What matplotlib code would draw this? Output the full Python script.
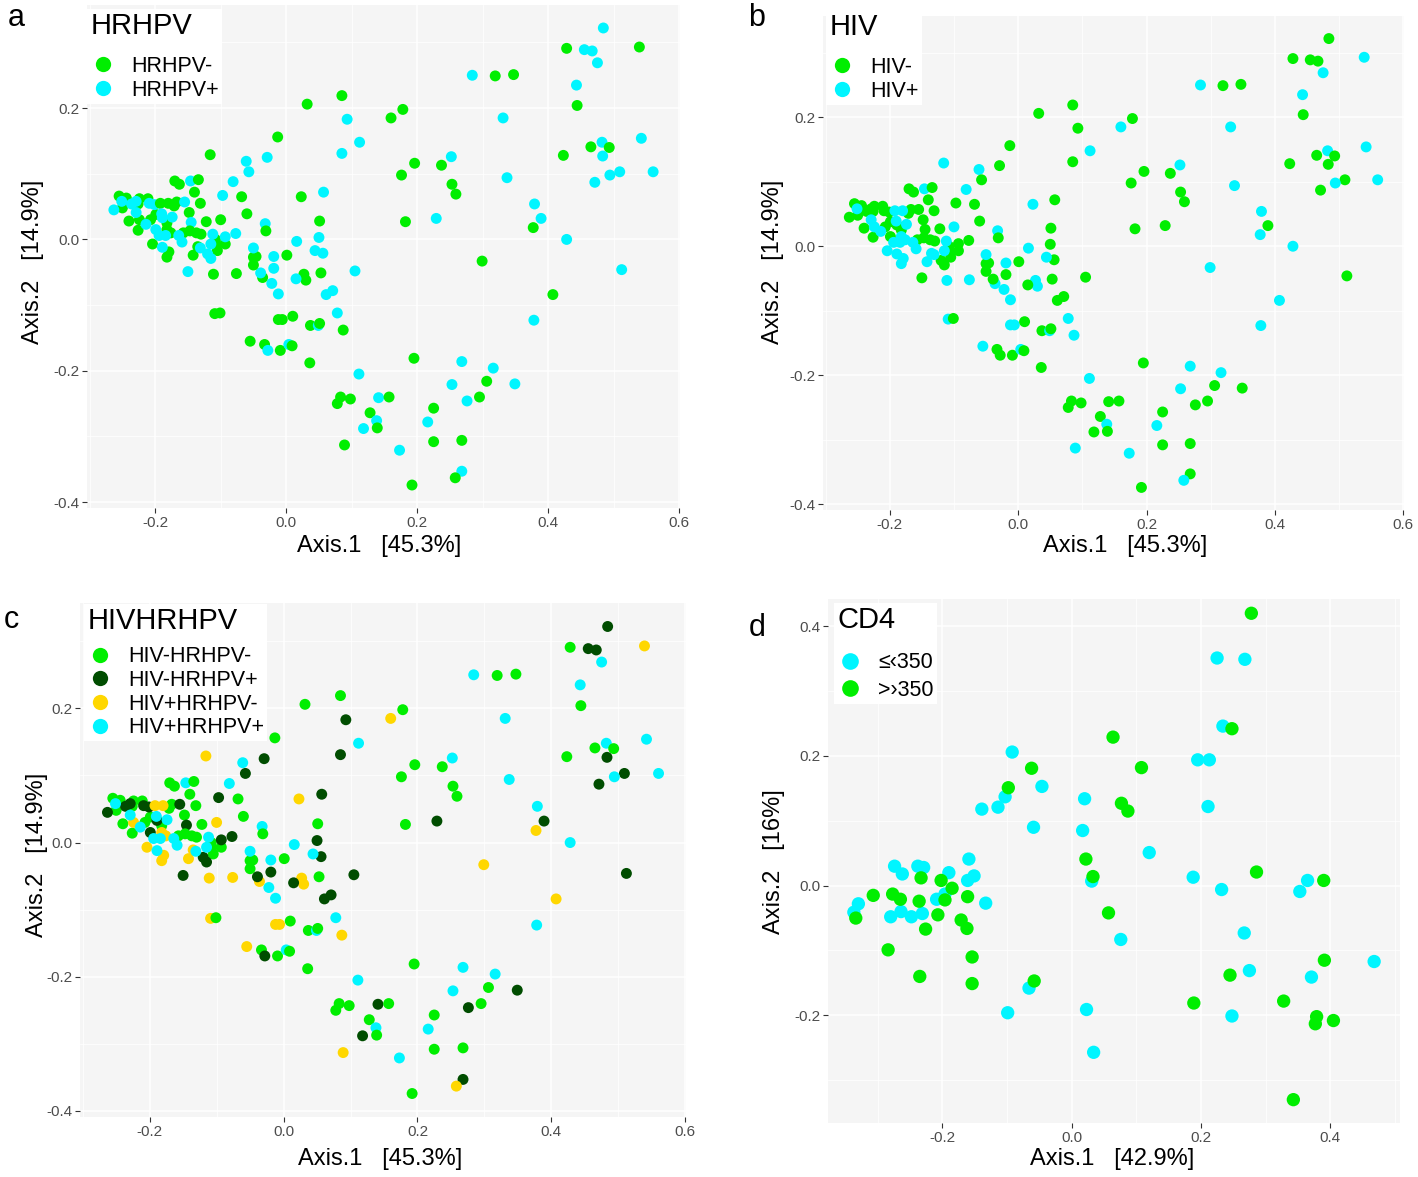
import matplotlib
matplotlib.use("Agg")
import matplotlib.pyplot as plt
from matplotlib.lines import Line2D
from matplotlib.ticker import MultipleLocator, FormatStrFormatter
import numpy as np

plt.rcParams['font.family'] = ['Liberation Sans', 'DejaVu Sans']
plt.rcParams['axes.unicode_minus'] = False

# ---- panels a-c: same ordination, coloured by group ----
# group: 0 HIV-HRHPV-, 1 HIV-HRHPV+, 2 HIV+HRHPV-, 3 HIV+HRHPV+
pts = [
    # upper right
    (0.484, 0.322, 1), (0.428, 0.291, 0), (0.455, 0.289, 1), (0.467, 0.287, 1),
    (0.539, 0.293, 2), (0.475, 0.269, 3), (0.284, 0.250, 3), (0.319, 0.249, 0),
    (0.347, 0.251, 0), (0.443, 0.235, 3), (0.444, 0.204, 0), (0.178, 0.198, 0),
    (0.160, 0.185, 2), (0.331, 0.185, 3), (0.542, 0.154, 3), (0.482, 0.148, 3),
    (0.465, 0.141, 0), (0.493, 0.140, 0), (0.423, 0.128, 0), (0.483, 0.127, 1),
    (0.252, 0.126, 3), (0.196, 0.116, 0), (0.237, 0.113, 0), (0.176, 0.098, 0),
    (0.509, 0.103, 1), (0.494, 0.098, 3), (0.560, 0.103, 3), (0.471, 0.087, 1),
    (0.337, 0.094, 3), (0.253, 0.084, 0), (0.259, 0.069, 0), (0.379, 0.054, 3),
    (0.389, 0.032, 1), (0.377, 0.018, 2), (0.182, 0.027, 0), (0.229, 0.032, 1),
    (0.428, 0.000, 3), (0.299, -0.033, 2), (0.407, -0.084, 2), (0.378, -0.123, 3),
    (0.512, -0.046, 1),
    # upper middle
    (0.085, 0.219, 0), (0.032, 0.206, 0), (0.093, 0.183, 1), (0.112, 0.148, 3),
    (0.085, 0.131, 1), (-0.013, 0.156, 0), (-0.116, 0.129, 2), (-0.029, 0.125, 1),
    (-0.061, 0.119, 3), (-0.057, 0.103, 1), (-0.081, 0.088, 3), (-0.170, 0.089, 0),
    (-0.163, 0.084, 0), (-0.146, 0.089, 3), (-0.134, 0.091, 0), (-0.140, 0.072, 0),
    (-0.097, 0.067, 1), (-0.068, 0.065, 0), (0.023, 0.065, 2), (0.057, 0.072, 1),
    (-0.131, 0.055, 0), (-0.060, 0.039, 0), (-0.148, 0.041, 0), (-0.100, 0.030, 2),
    (-0.122, 0.027, 0), (-0.145, 0.026, 1), (-0.032, 0.024, 3), (-0.031, 0.013, 0),
    (0.051, 0.028, 0), (0.050, 0.003, 1), (0.016, -0.003, 3),
    # dense cluster on the left
    (-0.255, 0.066, 0), (-0.244, 0.063, 0), (-0.250, 0.048, 0), (-0.224, 0.062, 0),
    (-0.211, 0.062, 0), (-0.226, 0.054, 0), (-0.171, 0.051, 0), (-0.167, 0.057, 0),
    (-0.240, 0.028, 0), (-0.226, 0.014, 0), (-0.207, 0.030, 0), (-0.199, 0.038, 0),
    (-0.182, 0.025, 0), (-0.157, 0.010, 0), (-0.147, 0.013, 0), (-0.137, 0.010, 0),
    (-0.130, 0.008, 0), (-0.108, 0.000, 0), (-0.107, -0.007, 0), (-0.093, -0.007, 0),
    (-0.105, -0.017, 0),
    (-0.263, 0.045, 1), (-0.236, 0.054, 1), (-0.229, 0.058, 1), (-0.209, 0.055, 1),
    (-0.201, 0.053, 1), (-0.155, 0.057, 1), (-0.189, 0.033, 1), (-0.199, 0.015, 1),
    (-0.093, 0.004, 1), (-0.077, 0.009, 1), (-0.120, -0.022, 1), (-0.115, -0.029, 1),
    (-0.150, -0.049, 1),
    (-0.192, 0.055, 2), (-0.180, 0.055, 2), (-0.224, 0.030, 2), (-0.182, 0.015, 2),
    (-0.176, 0.010, 2), (-0.204, -0.007, 2), (-0.182, -0.027, 2), (-0.179, -0.019, 2),
    (-0.142, -0.024, 2), (-0.135, -0.011, 2), (-0.111, -0.053, 2), (-0.076, -0.052, 2),
    (-0.251, 0.058, 3), (-0.229, 0.041, 3), (-0.214, 0.023, 3), (-0.190, 0.039, 3),
    (-0.174, 0.034, 3), (-0.194, 0.006, 3), (-0.184, 0.006, 3), (-0.189, -0.012, 3),
    (-0.164, 0.006, 3), (-0.159, -0.004, 3), (-0.112, 0.008, 3), (-0.115, -0.007, 3),
    (-0.131, -0.013, 3),
    # middle
    (0.105, -0.048, 1), (0.053, -0.051, 0), (0.061, -0.084, 1), (0.071, -0.078, 1),
    (0.027, -0.053, 2), (0.030, -0.062, 2), (0.015, -0.060, 1), (-0.022, -0.067, 3),
    (-0.012, -0.083, 3), (-0.019, -0.044, 1), (-0.019, -0.026, 3), (0.001, -0.024, 0),
    (0.056, -0.021, 1), (0.044, -0.017, 3), (-0.036, -0.058, 2), (-0.039, -0.051, 1),
    (-0.050, -0.027, 0), (-0.046, -0.026, 0), (-0.050, -0.039, 0), (-0.050, -0.013, 3),
    (-0.109, -0.113, 2), (-0.101, -0.112, 0), (-0.012, -0.122, 2), (-0.006, -0.122, 2),
    (0.010, -0.117, 0), (0.037, -0.131, 0), (0.049, -0.131, 3), (0.051, -0.128, 0),
    (0.078, -0.112, 3), (0.087, -0.138, 2), (-0.055, -0.155, 2), (-0.033, -0.160, 0),
    (-0.028, -0.169, 1), (-0.009, -0.169, 0), (0.004, -0.160, 3), (0.009, -0.162, 0),
    (0.036, -0.188, 0), (0.111, -0.205, 3),
    # lower group
    (0.195, -0.181, 0), (0.268, -0.186, 3), (0.316, -0.196, 3), (0.306, -0.216, 0),
    (0.349, -0.220, 1), (0.253, -0.221, 3), (0.295, -0.240, 0), (0.276, -0.246, 1),
    (0.083, -0.240, 0), (0.078, -0.250, 0), (0.098, -0.243, 0), (0.141, -0.241, 1),
    (0.157, -0.240, 0), (0.225, -0.257, 0), (0.128, -0.264, 0), (0.138, -0.276, 3),
    (0.139, -0.287, 0), (0.118, -0.288, 1), (0.216, -0.278, 3), (0.225, -0.308, 0),
    (0.268, -0.306, 0), (0.173, -0.321, 3), (0.089, -0.313, 2), (0.268, -0.353, 1),
    (0.258, -0.363, 2), (0.192, -0.374, 0),
]
axis1 = np.array([p[0] for p in pts])
axis2 = np.array([p[1] for p in pts])
group = np.array([p[2] for p in pts])

group_labels = ['HIV-HRHPV-', 'HIV-HRHPV+', 'HIV+HRHPV-', 'HIV+HRHPV+']
hrhpv_pos = np.isin(group, [1, 3])
hiv_pos = np.isin(group, [2, 3])

# ---- panel d: CD4 ----
cd4_low_x = [-0.337, -0.330, -0.274, -0.262, -0.238, -0.229, -0.190, -0.161, -0.151, -0.159,
             -0.133, -0.209, -0.196, -0.280, -0.264, -0.248, -0.231, -0.092, -0.046, -0.103,
             -0.114, -0.139, -0.059, -0.066, -0.099, 0.023, 0.034, 0.076, 0.031, 0.020,
             0.017, 0.120, 0.188, 0.232, 0.195, 0.213, 0.211, 0.225, 0.268, 0.234,
             0.267, 0.275, 0.248, 0.371, 0.468, 0.353, 0.365]
cd4_low_y = [-0.041, -0.028, 0.030, 0.018, 0.030, 0.028, 0.020, 0.008, 0.015, 0.041,
             -0.027, -0.021, -0.013, -0.048, -0.040, -0.048, -0.043, 0.206, 0.153, 0.137,
             0.121, 0.118, 0.090, -0.158, -0.196, -0.191, -0.257, -0.083, 0.007, 0.134,
             0.085, 0.051, 0.013, -0.006, 0.194, 0.194, 0.122, 0.351, 0.349, 0.246,
             -0.073, -0.131, -0.201, -0.141, -0.117, -0.009, 0.008]
cd4_high_x = [-0.334, -0.307, -0.277, -0.265, -0.233, -0.236, -0.226, -0.207, -0.202, -0.185,
              -0.196, -0.161, -0.171, -0.162, -0.284, -0.154, -0.235, -0.154, -0.058, -0.062,
              -0.098, 0.057, 0.064, 0.108, 0.077, 0.087, 0.022, 0.033, 0.278, 0.248,
              0.286, 0.390, 0.245, 0.189, 0.328, 0.379, 0.377, 0.405, 0.391, 0.343]
cd4_high_y = [-0.050, -0.015, -0.013, -0.021, 0.012, -0.024, -0.067, -0.045, 0.008, -0.004,
              -0.022, -0.017, -0.053, -0.066, -0.099, -0.110, -0.140, -0.151, -0.147, 0.181,
              0.151, -0.042, 0.229, 0.182, 0.127, 0.115, 0.041, 0.014, 0.420, 0.242,
              0.021, 0.008, -0.138, -0.181, -0.178, -0.202, -0.213, -0.208, -0.115, -0.330]

GREEN = '#00EE00'
CYAN = '#00F5FF'
DKGREEN = '#004D00'
GOLD = '#FFD700'
group_colors = [GREEN, DKGREEN, GOLD, CYAN]

W, H = 1418, 1177
fig = plt.figure(figsize=(W / 100, H / 100), dpi=100)


def px_rect(x0, x1, y0, y1):
    return [x0 / W, 1 - y1 / H, (x1 - x0) / W, (y1 - y0) / H]


def style(ax, xlim, ylim, xticks, yticks, xlabel, ylabel, xlab_pos, ylab_pos):
    ax.set_facecolor('#F5F5F5')
    for s in ax.spines.values():
        s.set_visible(False)
    ax.set_xlim(*xlim)
    ax.set_ylim(*ylim)
    ax.set_xticks(xticks)
    ax.set_yticks(yticks)
    ax.xaxis.set_minor_locator(MultipleLocator(0.1))
    ax.yaxis.set_minor_locator(MultipleLocator(0.1))
    ax.xaxis.set_major_formatter(FormatStrFormatter('%.1f'))
    ax.yaxis.set_major_formatter(FormatStrFormatter('%.1f'))
    ax.grid(which='major', color='white', lw=1.1)
    ax.grid(which='minor', color='white', lw=0.55)
    ax.set_axisbelow(True)
    ax.tick_params(which='major', length=3.5, width=0.8, color='#333333',
                   labelsize=11, labelcolor='#4D4D4D', pad=2)
    ax.tick_params(which='minor', length=0)
    ax.set_xlabel(xlabel, fontsize=17)
    ax.set_ylabel(ylabel, fontsize=17)
    ax.xaxis.set_label_coords(*xlab_pos)
    ax.yaxis.set_label_coords(*ylab_pos)


def add_legend(ax, labels, colors, title, ms, spacing, left_px, top_px, title_gap):
    handles = [Line2D([], [], ls='', marker='o', ms=ms, color=c, mec='none') for c in colors]
    left = left_px / ax.bbox.width
    top = 1 - top_px / ax.bbox.height
    leg = ax.legend(handles, labels, title=title, loc='upper left',
                    bbox_to_anchor=(left, top), frameon=True, fancybox=False,
                    framealpha=1, edgecolor='none', facecolor='white',
                    fontsize=15.5, title_fontsize=21, alignment='left',
                    handletextpad=0.7, labelspacing=spacing, borderpad=0.15,
                    borderaxespad=0.0, handlelength=1.2)
    # extra room between the title and the keys
    leg._legend_box.sep = title_gap
    return leg


lim_x = (-0.304, 0.601)
lim_y = (-0.409, 0.357)
ticks_x = [-0.2, 0.0, 0.2, 0.4, 0.6]
ticks_y = [-0.4, -0.2, 0.0, 0.2]

# a
ax_a = fig.add_axes(px_rect(87, 680, 5, 508))
ax_a.scatter(axis1, axis2, s=62, c=np.where(hrhpv_pos, CYAN, GREEN), edgecolors='none')
style(ax_a, lim_x, lim_y, ticks_x, ticks_y, 'Axis.1   [45.3%]', 'Axis.2   [14.9%]',
      (0.493, -0.054), (-0.072, 0.49))
add_legend(ax_a, ['HRHPV-', 'HRHPV+'], [GREEN, CYAN], 'HRHPV', 11, 0.15, 0, 4, 11)

# b
ax_b = fig.add_axes(px_rect(823, 1404, 16, 510))
ax_b.scatter(axis1, axis2, s=62, c=np.where(hiv_pos, CYAN, GREEN), edgecolors='none')
style(ax_b, lim_x, lim_y, ticks_x, ticks_y, 'Axis.1   [45.3%]', 'Axis.2   [14.9%]',
      (0.52, -0.051), (-0.067, 0.502))
add_legend(ax_b, ['HIV-', 'HIV+'], [GREEN, CYAN], 'HIV', 11, 0.15, 3, -6, 11)

# c
ax_c = fig.add_axes(px_rect(80, 686, 603, 1117))
ax_c.scatter(axis1, axis2, s=62, c=[group_colors[g] for g in group], edgecolors='none')
style(ax_c, lim_x, lim_y, ticks_x, ticks_y, 'Axis.1   [45.3%]', 'Axis.2   [14.9%]',
      (0.495, -0.06), (-0.053, 0.509))
add_legend(ax_c, group_labels, group_colors, 'HIVHRHPV', 11, 0.12, 4, 1, 8)

# d
ax_d = fig.add_axes(px_rect(828, 1400, 599, 1123))
ax_d.scatter(cd4_low_x, cd4_low_y, s=92, c=CYAN, edgecolors='none')
ax_d.scatter(cd4_high_x, cd4_high_y, s=92, c=GREEN, edgecolors='none')
style(ax_d, (-0.377, 0.508), (-0.366, 0.442), [-0.2, 0.0, 0.2, 0.4], [-0.2, 0.0, 0.2, 0.4],
      'Axis.1   [42.9%]', 'Axis.2   [16%]', (0.497, -0.048), (-0.075, 0.498))
add_legend(ax_d, ['≤‹350', '>›350'], [CYAN, GREEN], 'CD4', 12, 0.3, 6, 4, 13)

for letter, x, y in [('a', 16, 18), ('b', 757, 18), ('c', 11, 620), ('d', 757, 628)]:
    fig.text(x / W, 1 - y / H, letter, fontsize=22, ha='center', va='center')

fig.savefig('out.png', dpi=100)
